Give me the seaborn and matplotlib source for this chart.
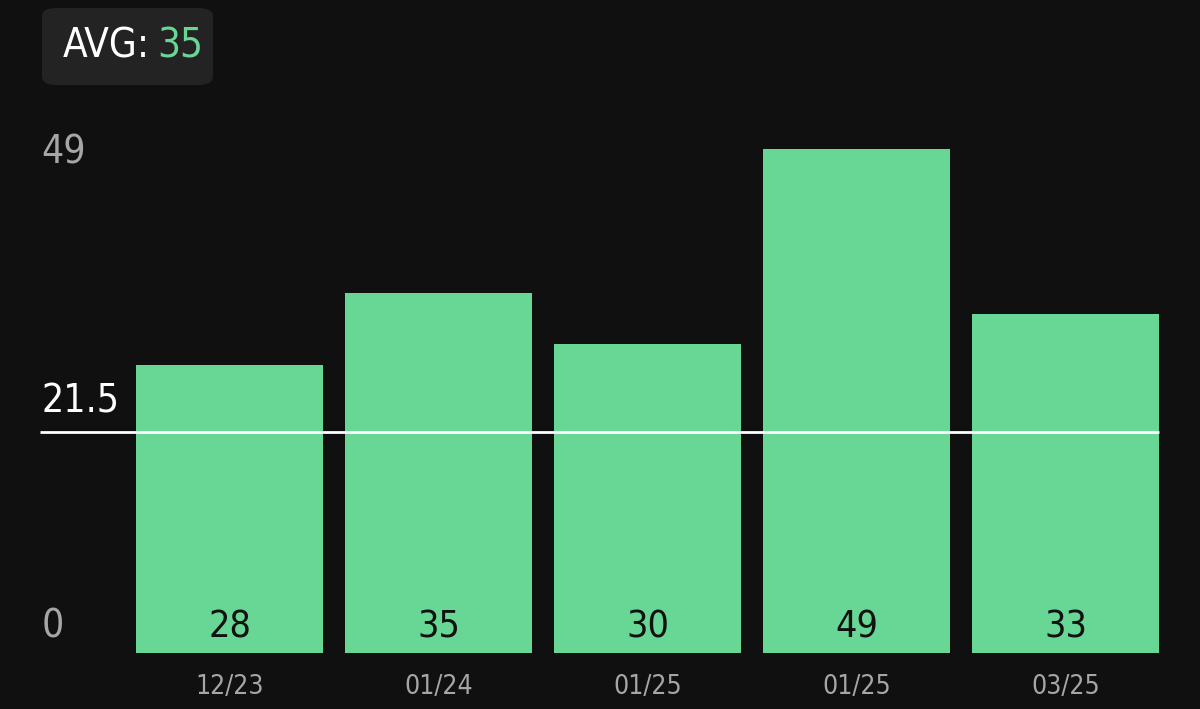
import pandas as pd
import matplotlib.pyplot as plt
import seaborn as sns
from matplotlib.patches import FancyBboxPatch

# Chart data
months = ["12/23", "01/24", "01/25", "01/25", "03/25"]
values = [28, 35, 30, 49, 33]
avg_value = 35
ref_line = 21.5

BG = "#101010"
GREEN = "#68d694"
GREY = "#a6a6a6"

sns.set_style("dark")
plt.rcParams["font.family"] = ["DejaVu Sans"]
plt.rcParams["font.stretch"] = "condensed"

df = pd.DataFrame({"month": range(len(months)), "value": values})

fig = plt.figure(figsize=(12, 7.09), dpi=100, facecolor=BG)
ax = fig.add_axes([40 / 1200, 56 / 709, 1130 / 1200, 504 / 709])
ax.set_facecolor(BG)

bar_w = 0.895
sns.barplot(x="month", y="value", data=df, color=GREEN, width=bar_w,
            saturation=1, native_scale=True, linewidth=0, ax=ax, zorder=2)

ax.set_xlim(-0.907, 4.5)
ax.set_ylim(0, 49)
for s in ax.spines.values():
    s.set_visible(False)
ax.set_xticks([])
ax.set_yticks([])
ax.set_xlabel("")
ax.set_ylabel("")
ax.grid(False)

# reference line
ax.hlines(ref_line, -0.907, len(values) - 1 + bar_w / 2, color="white", lw=2, zorder=3)

# y labels
ax.annotate("49", (-0.9, 49), xytext=(0, -4), textcoords="offset pixels",
            color=GREY, fontsize=28, va="center", ha="left")
ax.annotate("21.5", (-0.9, ref_line), xytext=(0, 11), textcoords="offset pixels",
            color="white", fontsize=28, va="bottom", ha="left")
ax.annotate("0", (-0.9, 0), xytext=(0, 7), textcoords="offset pixels",
            color=GREY, fontsize=28, va="bottom", ha="left")

# value labels inside bars and month labels below
for i, (m, v) in enumerate(zip(months, values)):
    ax.annotate(str(v), (i, 0), xytext=(0, 8), textcoords="offset pixels",
                color="#111111", fontsize=27, ha="center", va="bottom", zorder=4)
    ax.annotate(m, (i, 0), xytext=(0, -21), textcoords="offset pixels",
                color=GREY, fontsize=19, ha="center", va="top")

# AVG badge
box = FancyBboxPatch((42 / 1200, 1 - 85 / 709), 171 / 1200, 77 / 709,
                     boxstyle="round,pad=0,rounding_size=0.012",
                     transform=fig.transFigure, facecolor="#232323", edgecolor="none")
fig.patches.append(box)
t = fig.text(63 / 1200, 1 - 46 / 709, "AVG:", color="white", fontsize=29, va="center")
fig.canvas.draw()
bb = t.get_window_extent()
fig.text((bb.x1 + 7) / 1200, 1 - 46 / 709, str(avg_value), color=GREEN, fontsize=29, va="center")

plt.savefig("out.png", dpi=100, facecolor=BG)
